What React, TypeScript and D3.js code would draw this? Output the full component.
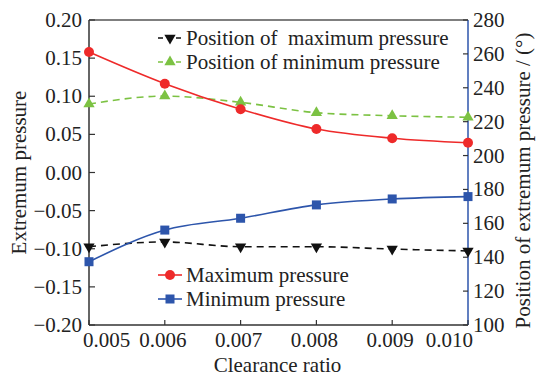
import React, { useEffect, useRef } from "react"
import * as d3 from "d3"

const WIDTH = 537
const HEIGHT = 376

const clearanceRatio = [0.005, 0.006, 0.007, 0.008, 0.009, 0.01]
const maxPressure = [0.158, 0.1165, 0.083, 0.057, 0.045, 0.039]
const minPressure = [-0.117, -0.0755, -0.06, -0.0425, -0.0347, -0.0316]
const posMaxPressure = [146.2, 149.0, 146.2, 146.2, 144.8, 143.7]
const posMinPressure = [230.4, 235.1, 231.4, 225.3, 223.5, 222.6]

const xTicks = [0.005, 0.006, 0.007, 0.008, 0.009, 0.01]
const xTickLabels = ["0.005", "0.006", "0.007", "0.008", "0.009", "0.010"]
const leftTicks = [0.2, 0.15, 0.1, 0.05, 0, -0.05, -0.1, -0.15, -0.2]
const rightTicks = [100, 120, 140, 160, 180, 200, 220, 240, 260, 280]

const RED = "#ee2a2a"
const BLUE = "#2d55ab"
const GREEN = "#7cc243"
const BLACK = "#111"
const FONT = "'Times New Roman', Times, 'Liberation Serif', 'Noto Serif', 'DejaVu Serif', serif"

const App = () => {
	const svgRef = useRef(null)

	useEffect(() => {
		const svg = d3.select(svgRef.current)
		svg.selectAll("*").remove()

		const margin = { top: 20, right: 69, bottom: 51, left: 89 }
		const w = WIDTH - margin.left - margin.right
		const h = HEIGHT - margin.top - margin.bottom

		const x = d3.scaleLinear().domain([0.005, 0.01]).range([0, w])
		const yL = d3.scaleLinear().domain([-0.2, 0.2]).range([h, 0])
		const yR = d3.scaleLinear().domain([100, 280]).range([h, 0])

		const g = svg.append("g").attr("transform", `translate(${margin.left},${margin.top})`)

		const addText = (sel, tx, ty, anchor, label) =>
			sel.append("text").attr("x", tx).attr("y", ty)
				.attr("text-anchor", anchor)
				.style("font-family", FONT).style("font-size", "21px").attr("fill", "#222")
				.text(label)

		// frame
		g.append("line").attr("x1", 0).attr("x2", w).attr("y1", 0).attr("y2", 0)
			.attr("stroke", "#555").attr("stroke-width", 1.5)
		g.append("line").attr("x1", 0).attr("x2", 0).attr("y1", 0).attr("y2", h)
			.attr("stroke", "#333").attr("stroke-width", 1.5)
		g.append("line").attr("x1", 0).attr("x2", w).attr("y1", h).attr("y2", h)
			.attr("stroke", "#333").attr("stroke-width", 1.5)
		g.append("line").attr("x1", w).attr("x2", w).attr("y1", 0).attr("y2", h)
			.attr("stroke", BLUE).attr("stroke-width", 1.5)

		// x ticks
		xTicks.forEach((t, i) => {
			g.append("line").attr("x1", x(t)).attr("x2", x(t)).attr("y1", h).attr("y2", h - 5)
				.attr("stroke", "#333").attr("stroke-width", 1.2)
			let anchor = "middle"
			let tx = x(t) - 2
			if (i === 0) { anchor = "start"; tx = x(t) - 6 }
			if (i === xTicks.length - 1) { anchor = "end"; tx = x(t) + 5 }
			addText(g, tx, h + 22, anchor, xTickLabels[i])
		})

		// left ticks
		leftTicks.forEach((t) => {
			g.append("line").attr("x1", 0).attr("x2", 6).attr("y1", yL(t)).attr("y2", yL(t))
				.attr("stroke", "#333").attr("stroke-width", 1.2)
			addText(g, -7, yL(t) + 7, "end", d3.format(".2f")(t).replace("-", "\u2212"))
		})

		// right ticks
		rightTicks.forEach((t) => {
			g.append("line").attr("x1", w).attr("x2", w - 5).attr("y1", yR(t)).attr("y2", yR(t))
				.attr("stroke", "#333").attr("stroke-width", 1.2)
			addText(g, w + 5, yR(t) + 7, "start", t)
		})

		// axis titles
		addText(svg, margin.left + w / 2 - 1, 372, "middle", "Clearance ratio")
		addText(svg, 0, 0, "middle", "Extremum pressure")
			.attr("x", null).attr("y", null)
			.attr("transform", `translate(26,${margin.top + h / 2}) rotate(-90)`)
		addText(svg, 0, 0, "middle", "Position of extremum pressure / (\u00b0)")
			.attr("x", null).attr("y", null)
			.attr("transform", `translate(530,${margin.top + h / 2 + 8}) rotate(-90)`)

		const tri = d3.symbol().type(d3.symbolTriangle).size(55)

		const drawMarker = (sel, kind, color, cx, cy) => {
			if (kind === "circle") {
				sel.append("circle").attr("cx", cx).attr("cy", cy).attr("r", 5).attr("fill", color)
			} else if (kind === "square") {
				sel.append("rect").attr("x", cx - 4.5).attr("y", cy - 4.5)
					.attr("width", 9).attr("height", 9).attr("fill", color)
			} else if (kind === "down") {
				sel.append("path").attr("d", tri())
					.attr("transform", `translate(${cx},${cy}) rotate(180)`).attr("fill", color)
			} else {
				sel.append("path").attr("d", tri())
					.attr("transform", `translate(${cx},${cy})`).attr("fill", color)
			}
		}

		const series = [
			{ values: posMinPressure, scale: yR, color: GREEN, dash: "7,5", kind: "up" },
			{ values: posMaxPressure, scale: yR, color: BLACK, dash: "7,5", kind: "down" },
			{ values: maxPressure, scale: yL, color: RED, dash: null, kind: "circle" },
			{ values: minPressure, scale: yL, color: BLUE, dash: null, kind: "square" },
		]

		series.forEach((s) => {
			const line = d3.line()
				.x((d, i) => x(clearanceRatio[i]))
				.y((d) => s.scale(d))
				.curve(d3.curveMonotoneX)
			g.append("path").datum(s.values)
				.attr("fill", "none").attr("stroke", s.color).attr("stroke-width", 1.6)
				.attr("stroke-dasharray", s.dash)
				.attr("d", line)
			s.values.forEach((v, i) => drawMarker(g, s.kind, s.color, x(clearanceRatio[i]), s.scale(v)))
		})

		// legends
		const legendTop = [
			{ label: "Position of  maximum pressure", color: BLACK, kind: "down", y: 38 },
			{ label: "Position of minimum pressure", color: GREEN, kind: "up", y: 62 },
		]
		const legendBottom = [
			{ label: "Maximum pressure", color: RED, kind: "circle", y: 275 },
			{ label: "Minimum pressure", color: BLUE, kind: "square", y: 299 },
		]
		legendTop.forEach((l) => {
			svg.append("line").attr("x1", 158).attr("x2", 182).attr("y1", l.y).attr("y2", l.y)
				.attr("stroke", l.color).attr("stroke-width", 1.6).attr("stroke-dasharray", "5,4")
			drawMarker(svg, l.kind, l.color, 170, l.y)
			addText(svg, 186, l.y + 7, "start", l.label).style("white-space", "pre")
		})
		legendBottom.forEach((l) => {
			svg.append("line").attr("x1", 158).attr("x2", 182).attr("y1", l.y).attr("y2", l.y)
				.attr("stroke", l.color).attr("stroke-width", 1.6)
			drawMarker(svg, l.kind, l.color, 170, l.y)
			addText(svg, 186, l.y + 7, "start", l.label)
		})
	}, [])

	return (
		<div style={{ position: "absolute", left: 0, top: 0, width: WIDTH, height: HEIGHT, background: "#fff" }}>
			<svg ref={svgRef} width={WIDTH} height={HEIGHT} style={{ display: "block" }}></svg>
		</div>
	)
}

export default App
